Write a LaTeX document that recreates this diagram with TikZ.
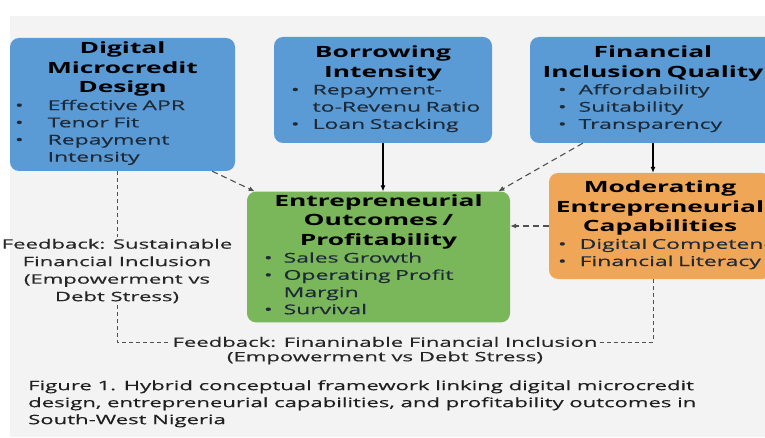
\documentclass[tikz,border=0pt]{standalone}
\usepackage{fontspec}
\setmainfont[FakeStretch=1.7, UprightFeatures={FakeBold=0.4}]{Open Sans}
\usetikzlibrary{arrows.meta}
\definecolor{bggray}{HTML}{F3F3F3}
\definecolor{bblue}{HTML}{5B9BD5}
\definecolor{bgreen}{HTML}{7AB65A}
\definecolor{borange}{HTML}{F0A657}
\definecolor{ink}{HTML}{1E2A38}
\definecolor{fbgray}{HTML}{505050}
\providecommand{\ttl}[1]{{\centering\fontsize{15.5}{19.5}\selectfont\bfseries\color{black}#1\par}}
\providecommand{\blist}[3]{\noindent\hspace*{#1}\begin{tabular}[t]{@{}l@{\hspace{#2}}l@{}}#3\end{tabular}}
\tikzstyle{block} = [rounded corners=9pt, inner xsep=4pt, inner ysep=3pt, text=ink, font={\fontsize{13.5}{17.2}\selectfont}]
\tikzstyle{link} = [draw=black, line width=1.1pt, ->]
\tikzstyle{dlink} = [draw=fbgray, line width=1.1pt, dash pattern=on 6pt off 4pt, ->]
\tikzstyle{fbline} = [draw=fbgray, line width=0.8pt, dash pattern=on 4pt off 3pt]
\tikzstyle{fbtext} = [text=black!85, align=center, font={\fontsize{13}{17.5}\selectfont}, inner sep=2pt]

\begin{document}
\begin{tikzpicture}[x=1pt, y=-1pt, >={Latex[length=6pt, width=5pt]}]
    \useasboundingbox (0,0) rectangle (765,438);
    \fill[bggray] (10,16) rectangle (780,437);
    % drivers
    \node [block, fill=bblue, text width=217pt, minimum height=133pt] (dmd) at (122.5,104.5)
      {\ttl{Digital\\Microcredit\\Design}\blist{1pt}{24pt}{\textbullet & Effective APR\\ \textbullet & Tenor Fit\\ \textbullet & Repayment\\ & Intensity}};
    \node [block, fill=bblue, text width=210pt, minimum height=106pt] (bi) at (383,90)
      {\ttl{Borrowing\\Intensity}\blist{13pt}{13pt}{\textbullet & Repayment-\\ & to-Revenu Ratio\\ \textbullet & Loan Stacking}};
    \node [block, fill=bblue, text width=238pt, minimum height=106pt] (fiq) at (653,90)
      {\ttl{Financial\\Inclusion Quality}\blist{24pt}{12pt}{\textbullet & Affordability\\ \textbullet & Suitability\\ \textbullet & Transparency}};
    % outcome and moderator
    \node [block, fill=bgreen, text width=255pt, minimum height=130pt] (eo) at (378.5,257)
      {\ttl{Entrepreneurial\\Outcomes /\\Profitability}\blist{13pt}{11pt}{\textbullet & Sales Growth\\ \textbullet & Operating Profit\\ & Margin\\ \textbullet & Survival}};
    \node [block, fill=borange, text width=214pt, minimum height=106pt] (mec) at (660,226)
      {\ttl{Moderating\\Entrepreneurial\\Capabilities}\blist{5pt}{13pt}{\textbullet & Digital Competency\\ \textbullet & Financial Literacy}};
    % feedback texts
    \node [fbtext] (fbl) at (117,271) {Feedback: Sustainable\\Financial Inclusion\\(Empowerment vs\\Debt Stress)};
    \node [fbtext] (fbb) at (385,342) {Feedback: Finaninable Financial Inclusion};
    \node [fbtext, below=0pt] (fbb2) at (fbb.south) {(Empowerment vs Debt Stress)};
    \coordinate (cl) at (fbl.south |- fbb.west);
    \coordinate (cr) at (fiq.south |- fbb.east);
    % links
    \draw [dlink] ([xshift=-23pt]dmd.south east) -- ([xshift=8pt]eo.north west);
    \draw [link] (bi.south) -- (bi.south |- eo.north);
    \draw [dlink] ([xshift=53pt]fiq.south west) -- ([xshift=-12pt]eo.north east);
    \draw [link] (fiq.south) -- (fiq.south |- mec.north);
    \draw [dlink] (mec.west) -- (eo.east |- mec.west);
    % feedback loop
    \draw [fbline] (fbl.north |- dmd.south) -- (fbl.north);
    \draw [fbline] (fbl.south) -- (cl) -- (fbb.west);
    \draw [fbline] (fbb.east) -- (cr) -- (fiq.south |- mec.south);
    % caption
    \node [anchor=north west, align=left, inner sep=0pt, text=black!88, font={\fontsize{13}{17}\selectfont}] (cap) at (28,380)
      {Figure 1. Hybrid conceptual framework linking digital microcredit\\design, entrepreneurial capabilities, and profitability outcomes in\\South-West Nigeria};
\end{tikzpicture}
\end{document}
